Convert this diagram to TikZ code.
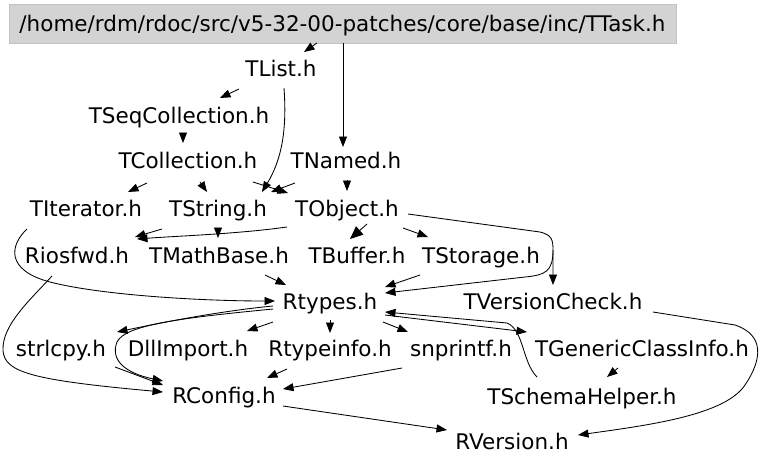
\documentclass[tikz,border=0pt]{standalone}
\usepackage{fontspec}
\setmainfont{DejaVu Sans}
\usetikzlibrary{arrows.meta,calc}
\definecolor{hdrfill}{RGB}{211,211,211}
\definecolor{hdrline}{RGB}{195,195,195}
\begin{document}
\begin{tikzpicture}[x=1pt,y=-1pt,
  lbl/.style={font=\fontsize{21.5}{24}\selectfont, inner sep=0pt, text height=15.5pt, text depth=0pt},
  hdrbox/.style={lbl, rectangle, fill=hdrfill, draw=hdrline, line width=0.6pt, minimum width=667pt, minimum height=39pt},
  e/.style={draw=black, line width=0.85pt, -{Triangle[length=10.5pt,width=8pt]}},
  eb/.style={draw=black, line width=0.85pt, -{Triangle[length=13pt,width=11pt]}}
]
\useasboundingbox (0,0) rectangle (768,467);
\fill[white] (0,0) rectangle (768,467);

\node[hdrbox] (task) at (342.5,23.5) {/home/rdm/rdoc/src/v5-32-00-patches/core/base/inc/TTask.h};
\node[lbl] (tlist) at (281,69) {TList.h};
\node[lbl] (tseq) at (179,116) {TSeqCollection.h};
\node[lbl] (tcoll) at (188,161) {TCollection.h};
\node[lbl] (tnamed) at (346,161) {TNamed.h};
\node[lbl] (titer) at (86,209) {TIterator.h};
\node[lbl] (tstring) at (218,209) {TString.h};
\node[lbl] (tobject) at (347,209) {TObject.h};
\node[lbl] (riosfwd) at (77,256) {Riosfwd.h};
\node[lbl] (tmath) at (219,256) {TMathBase.h};
\node[lbl] (tbuffer) at (357,256) {TBuffer.h};
\node[lbl] (tstorage) at (481,256) {TStorage.h};
\node[lbl] (rtypes) at (330,302) {Rtypes.h};
\node[lbl] (tversion) at (553,302) {TVersionCheck.h};
\node[lbl] (strlcpy) at (61,349) {strlcpy.h};
\node[lbl] (dllimport) at (188,349) {DllImport.h};
\node[lbl] (rtypeinfo) at (330,349) {Rtypeinfo.h};
\node[lbl] (snprintf) at (461,349) {snprintf.h};
\node[lbl] (tgeneric) at (642,349) {TGenericClassInfo.h};
\node[lbl] (tschema) at (582,397) {TSchemaHelper.h};
\node[lbl] (rconfig) at (224,396) {RConfig.h};
\node[lbl] (rversion) at (512,442) {RVersion.h};

\draw[e] ($(task)+(-25.5,19.5)$) -- ($(tlist)+(23,-17)$);
\draw[e] ($(task)+(0.5,19.5)$) -- ($(tnamed)+(-3,-14)$);
\draw[e] ($(tlist)+(-42,20)$) -- ($(tseq)+(41,-18)$);
\draw[e] ($(tlist)+(3,19)$) .. controls ($(tlist)+(6,60)$) and ($(tstring)+(64,-50)$) .. ($(tstring)+(44,-17)$);
\draw[e] ($(tseq)+(4,17)$) -- ($(tcoll)+(-5,-18)$);
\draw[e] ($(tcoll)+(-41,22)$) -- ($(titer)+(42,-17)$);
\draw[e] ($(tcoll)+(12,21)$) -- ($(tstring)+(-11,-17)$);
\draw[e] ($(tcoll)+(65,21)$) -- ($(tobject)+(-59,-16)$);
\draw[e] ($(tnamed)+(1,19)$) -- ($(tobject)+(0,-18)$);
\draw[e] ($(tnamed)+(-51,22)$) -- ($(tstring)+(53,-17)$);
\draw[e] ($(tstring)+(0,19)$) -- ($(tmath)+(-1,-18)$);
\draw[e] ($(tstring)+(-56,20)$) -- ($(riosfwd)+(58,-19)$);
\draw[e] ($(tobject)+(-60,18)$) .. controls ($(tobject)+(-110,25)$) and ($(riosfwd)+(100,-20)$) .. ($(riosfwd)+(60,-17)$);
\draw[eb] ($(tobject)+(20,15)$) -- ($(tbuffer)+(-7,-17)$);
\draw[e] ($(tobject)+(56,19)$) -- ($(tstorage)+(-53,-19)$);
\draw[e] ($(tobject)+(61,5)$) -- ($(tversion)+(-13,-70)$) .. controls ($(tversion)+(-1,-67)$) and ($(tversion)+(0,-62)$) .. ($(tversion)+(0,-52)$) -- ($(tversion)+(0,-17)$);
\draw[e] ($(tversion)+(0,-52)$) .. controls ($(tversion)+(0,-30)$) and ($(tversion)+(-8,-27)$) .. ($(tversion)+(-28,-25)$) -- ($(rtypes)+(55,-9)$);
\draw[e] ($(tstorage)+(-61,19)$) -- ($(rtypes)+(55,-15)$);
\draw[e] ($(tmath)+(46,19)$) -- ($(rtypes)+(-44,-17)$);
\draw[e] ($(titer)+(-59,20)$) .. controls ($(titer)+(-76,36)$) and ($(titer)+(-81,61)$) .. ($(titer)+(-36,73)$) .. controls ($(rtypes)+(-230,-7)$) and ($(rtypes)+(-130,-1)$) .. ($(rtypes)+(-55,-1)$);
\draw[e] ($(riosfwd)+(-25,20)$) .. controls ($(riosfwd)+(-47,44)$) and ($(riosfwd)+(-75,69)$) .. ($(riosfwd)+(-74,94)$) .. controls ($(rconfig)+(-220,-24)$) and ($(rconfig)+(-194,-16)$) .. ($(rconfig)+(-61,-4)$);
\draw[e] ($(rtypes)+(-57,4)$) .. controls ($(rtypes)+(-120,10)$) and ($(strlcpy)+(80,-22)$) .. ($(strlcpy)+(56,-17)$);
\draw[e] ($(rtypes)+(-57,7)$) .. controls ($(rtypes)+(-150,16)$) and ($(rtypes)+(-205,23)$) .. ($(rconfig)+(-107,-54)$) .. controls ($(rconfig)+(-114,-36)$) and ($(rconfig)+(-99,-23)$) .. ($(rconfig)+(-61,-15)$);
\draw[e] ($(strlcpy)+(54,18)$) -- ($(rconfig)+(-61,-11)$);
\draw[e] ($(rtypes)+(-57,20)$) -- ($(dllimport)+(59,-18)$);
\draw[e] ($(rtypes)+(0,18)$) -- ($(rtypeinfo)+(0,-16)$);
\draw[e] ($(rtypes)+(53,20)$) -- ($(snprintf)+(-53,-17)$);
\draw[e] ($(rtypes)+(55,13)$) -- ($(tgeneric)+(-115,-17)$);
\draw[e] ($(tschema)+(-45,-20)$) .. controls ($(tschema)+(-60,-35)$) and ($(tschema)+(-58,-67)$) .. ($(tschema)+(-75,-74)$) -- ($(rtypes)+(55,10)$);
\draw[e] ($(rtypeinfo)+(-43,20)$) -- ($(rconfig)+(43,-18)$);
\draw[e] ($(snprintf)+(-59,19)$) -- ($(rconfig)+(59,-7)$);
\draw[e] ($(tgeneric)+(-24,19)$) -- ($(tschema)+(25,-20)$);
\draw[e] ($(rconfig)+(59,10)$) -- ($(rversion)+(-65,-12)$);
\draw[e] ($(tversion)+(100,10)$) -- ($(tversion)+(182,23)$) .. controls ($(tversion)+(212,33)$) and ($(tversion)+(209,58)$) .. ($(tversion)+(192,83)$) .. controls ($(rversion)+(213,-27)$) and ($(rversion)+(138,-17)$) .. ($(rversion)+(66,-7)$);
\end{tikzpicture}
\end{document}
